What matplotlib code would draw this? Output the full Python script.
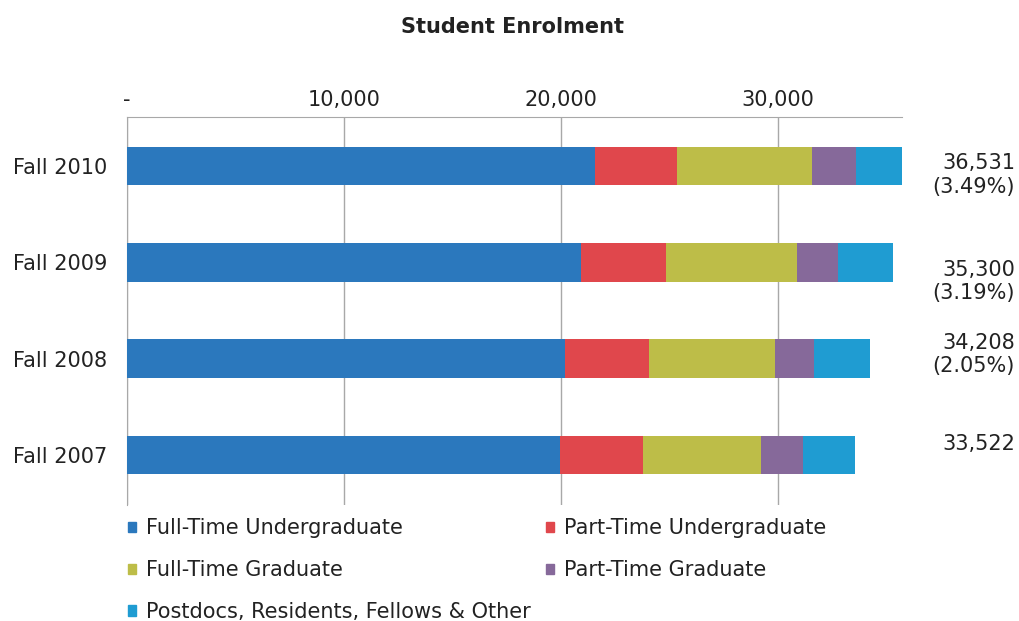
import numpy as np
import matplotlib.pyplot as plt
from matplotlib.patches import Patch

years = ["Fall 2007", "Fall 2008", "Fall 2009", "Fall 2010"]
ft_ug = [19950, 20180, 20920, 21570]
pt_ug = [3830, 3870, 3920, 3780]
ft_grad = [5440, 5810, 6040, 6220]
pt_grad = [1930, 1800, 1890, 2030]
other = [2372, 2548, 2530, 2931]
totals = [33522, 34208, 35300, 36531]
growth = ["", "(2.05%)", "(3.19%)", "(3.49%)"]

series = ["Full-Time Undergraduate", "Part-Time Undergraduate",
          "Full-Time Graduate", "Part-Time Graduate",
          "Postdocs, Residents, Fellows & Other"]
colors = ["#2b78bd", "#e0474c", "#bdbd48", "#86699a", "#1f9cd2"]

fig = plt.figure(figsize=(10.2, 6.21), dpi=100)
ax = fig.add_axes([0.1245, 0.1868, 0.7598, 0.6248])

y = np.arange(len(years))
left = np.zeros(len(years))
for vals, c in zip([ft_ug, pt_ug, ft_grad, pt_grad, other], colors):
    ax.barh(y, vals, left=left, height=0.4, color=c, zorder=3)
    left += np.array(vals)

ax.set_xlim(0, 35700)
ax.set_ylim(-0.52, 3.51)
ax.xaxis.tick_top()
ax.set_xticks([0, 10000, 20000, 30000])
ax.set_xticklabels(["-", "10,000", "20,000", "30,000"])
ax.set_yticks(y)
ax.set_yticklabels(years)
ax.tick_params(axis="both", length=0, labelsize=15, colors="#222222")
ax.tick_params(axis="x", pad=5)
ax.tick_params(axis="y", pad=14)
ax.grid(axis="x", color="#a8a8a8", lw=1, zorder=0)
for s in ["right", "bottom"]:
    ax.spines[s].set_visible(False)
for s in ["top", "left"]:
    ax.spines[s].set_color("#a8a8a8")

# total labels on the right
offsets = [11, 4, -19, -9]
trans = ax.get_yaxis_transform()
for i in range(len(years)):
    txt = f"{totals[i]:,}"
    if growth[i]:
        txt += "\n" + growth[i]
    ax.annotate(txt, xy=(1.0, y[i]), xycoords=trans,
                xytext=(113, offsets[i]), textcoords="offset pixels",
                ha="right", va="center", multialignment="right",
                fontsize=15, color="#222222",
                linespacing=1.22, annotation_clip=False)

fig.text(0.502, 0.956, "Student Enrolment", ha="center", va="center",
         fontsize=15, fontweight="bold", color="#222222")

handles = [Patch(color=c, label=s) for c, s in zip(colors, series)]
order = [0, 2, 4, 1, 3]
fig.legend([handles[i] for i in order], [series[i] for i in order],
           loc="upper left", bbox_to_anchor=(0.121, 0.172), ncol=2,
           frameon=False, fontsize=15, handlelength=0.4, handleheight=0.4,
           handletextpad=0.5, columnspacing=0.7, labelspacing=1.05,
           labelcolor="#222222", borderaxespad=0, borderpad=0.2)

fig.savefig("out.png", dpi=100)
